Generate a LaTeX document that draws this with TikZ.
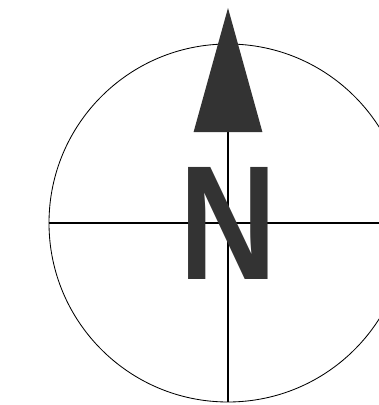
\documentclass[tikz,border=0pt]{standalone}
\usepackage{fontspec}
\setmainfont{Liberation Sans}
\definecolor{ink}{gray}{0.2}

\begin{document}
\begin{tikzpicture}[thin]

        % ====================
        % 0. Frame (1 px of the sheet = 0.025 cm)
        % ====================
        \useasboundingbox (-5.7,-4.55) rectangle (3.775,5.575);
        \clip (-5.7,-4.55) rectangle (3.775,5.575);

        % ====================
        % 1. Circle and cross
        % ====================
        \node[draw, circle, minimum size=8.95cm, inner sep=0pt, line width=0.6pt] (ring) at (0,0) {};
        \coordinate (base) at (0,2.275);

        \draw[line width=0.8pt] (ring.west) -- (ring.east);
        \draw[line width=0.8pt] (base) -- (ring.south);

        % ====================
        % 2. North arrow
        % ====================
        \coordinate (tip) at (0,5.375);
        \fill[ink] (tip) -- (-0.86,2.275) -- (0.86,2.275) -- cycle;

        % letter
        \node[text=ink, inner sep=0pt] (north) at (0,0) {\resizebox{2.44cm}{2.8cm}{\bfseries N}};

\end{tikzpicture}
\end{document}
